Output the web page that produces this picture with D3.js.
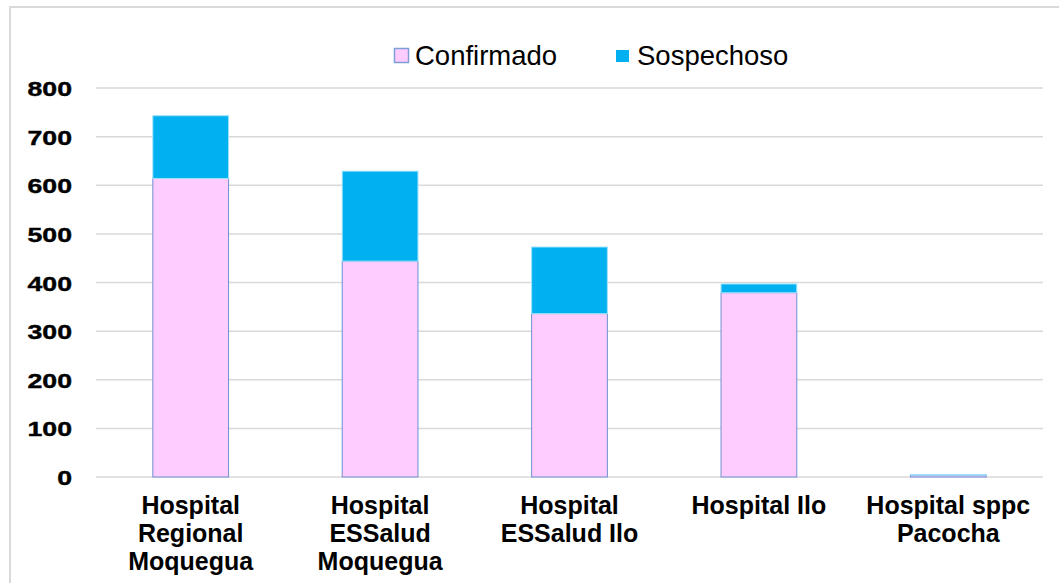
<!DOCTYPE html>
<html><head><meta charset="utf-8">
<script src="https://cdn.jsdelivr.net/npm/d3@7"></script>
<style>body{margin:0;background:#fff}svg{display:block}</style>
</head><body>
<svg id="c" width="1059" height="583"></svg>
<script>
const categories = [["Hospital","Regional","Moquegua"],["Hospital","ESSalud","Moquegua"],["Hospital","ESSalud Ilo"],["Hospital Ilo"],["Hospital sppc","Pacocha"]];
const confirmado = [614, 444, 336, 379, 4];
const sospechoso = [129, 185, 137, 18, 1];
const seriesNames = ["Confirmado","Sospechoso"];
const yTicks = [0,100,200,300,400,500,600,700,800];

const svg = d3.select("#c");
const W = 1059, H = 583;
// frame
svg.append("rect").attr("x",10).attr("y",7).attr("width",W).attr("height",H)
  .attr("fill","#fff").attr("stroke","#d9d9d9").attr("stroke-width",2);

const m = {left:96, right:1043, top:88, bottom:477};
const x = d3.scaleBand().domain(d3.range(categories.length)).range([m.left,m.right]).paddingInner(0.6).paddingOuter(0.3);
const y = d3.scaleLinear().domain([0,800]).range([m.bottom,m.top]);

// gridlines
svg.append("g").selectAll("line").data(yTicks).join("line")
  .attr("x1",m.left).attr("x2",m.right)
  .attr("y1",d=>y(d)).attr("y2",d=>y(d))
  .attr("stroke","#d9d9d9").attr("stroke-width",1.5);

// y axis labels
const yAxis = d3.axisLeft(y).tickValues(yTicks).tickSize(0).tickPadding(0);
const ya = svg.append("g").attr("transform",`translate(72,0)`).call(yAxis);
ya.select(".domain").remove();
ya.selectAll("text")
  .attr("font-family","Liberation Sans, Arial, sans-serif").attr("font-weight","bold")
  .attr("font-size",21).attr("fill","#000").attr("dy","0.36em")
  .attr("stroke","#000").attr("stroke-width",0.4)
  .attr("transform","scale(1.27,1)")
  .attr("x",0);

// bars
const data = categories.map((c,i)=>({i, c: confirmado[i], s: sospechoso[i]}));
const bw = x.bandwidth();
svg.append("g").selectAll("rect").data(data).join("rect")
  .attr("x",d=>x(d.i)).attr("width",bw)
  .attr("y",d=>y(d.c)).attr("height",d=>y(0)-y(d.c))
  .attr("fill","#FFCCFF").attr("stroke","#6f8fd0").attr("stroke-width",1);
svg.append("g").selectAll("rect").data(data).join("rect")
  .attr("x",d=>x(d.i)).attr("width",bw)
  .attr("y",d=>y(d.c+d.s)).attr("height",d=>y(d.c)-y(d.c+d.s))
  .attr("fill","#00B0F0").attr("stroke","#9fe4fb").attr("stroke-width",1);

// x labels
const xl = svg.append("g");
categories.forEach((lines,i)=>{
  const t = xl.append("text").attr("text-anchor","middle")
    .attr("font-family","Liberation Sans, Arial, sans-serif").attr("font-weight","bold")
    .attr("font-size",25).attr("fill","#000");
  lines.forEach((l,k)=>{
    t.append("tspan").attr("x",x(i)+bw/2).attr("y",514+k*28).text(l);
  });
});

// legend
const lg = svg.append("g").attr("font-family","Liberation Sans, Arial, sans-serif").attr("font-size",27.5);
lg.append("rect").attr("x",394.5).attr("y",48.5).attr("width",14).attr("height",14)
  .attr("fill","#FFCCFF").attr("stroke","#7f9fd6").attr("stroke-width",1.5);
lg.append("text").attr("x",415).attr("y",65).text(seriesNames[0]);
lg.append("rect").attr("x",616).attr("y",50).attr("width",13).attr("height",12)
  .attr("fill","#00B0F0");
lg.append("text").attr("x",637).attr("y",65).text(seriesNames[1]);
</script>
</body></html>
